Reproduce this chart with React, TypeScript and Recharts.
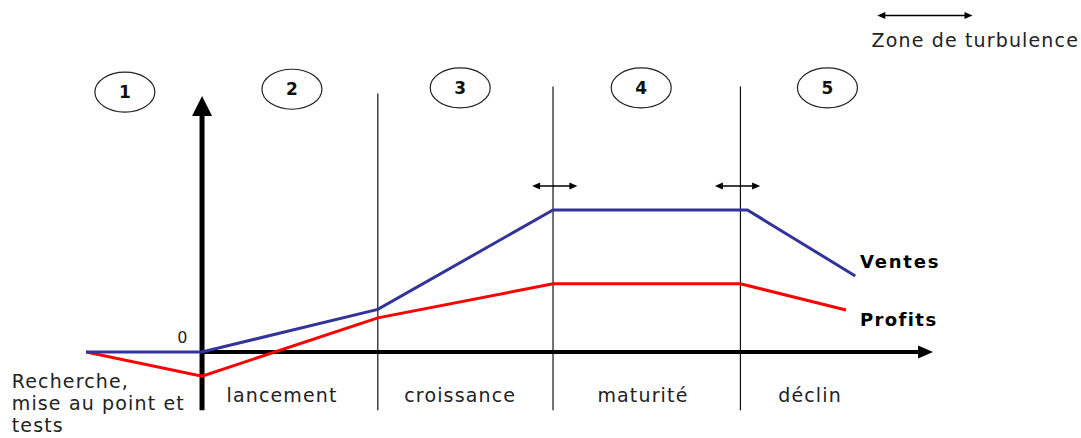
import React from 'react';
import { LineChart, Line, XAxis, YAxis, ReferenceLine, ReferenceDot } from 'recharts';

// time on x (arbitrary units), sales / profits on y (arbitrary units, 0 = break-even)
const ventesX = [0, 20, 50.3, 80.5, 114, 132.6];
const ventesY = [0, 0, 30, 100, 100, 53.5];
const profitsX = [0, 20, 50.3, 80.5, 112.8, 131];
const profitsY = [0, -17, 24, 48, 48, 29.6];

const phaseBounds = [50.3, 80.5, 112.8];
const phaseTops = [182, 187, 187];
const phaseNumbers = ['1', '2', '3', '4', '5'];
const phaseNumberX = [6.7, 35.5, 64.5, 95.7, 127.8];
const phaseNumberY = [183, 185, 186, 186, 186];
const phaseNames = ['lancement', 'croissance', 'maturité', 'déclin'];
const phaseNameX = [33.8, 64.5, 96, 124.8];
const turbulenceFrom = [76.9, 108.4];
const turbulenceTo = [84.7, 116.2];

const ventes = ventesX.map((x, i) => ({ x, y: ventesY[i] }));
const profits = profitsX.map((x, i) => ({ x, y: profitsY[i] }));

const FONT = '"DejaVu Sans", Verdana, sans-serif';

const arrowShape = (headLen: number, headW: number, both: boolean) => (p: any) => {
  const { x1, y1, x2, y2, stroke, strokeWidth } = p;
  const a = Math.atan2(y2 - y1, x2 - x1);
  const c = Math.cos(a);
  const s = Math.sin(a);
  const head = (tx: number, ty: number, dir: number) => {
    const bx = tx - dir * headLen * c;
    const by = ty - dir * headLen * s;
    const px = (-s * headW) / 2;
    const py = (c * headW) / 2;
    return `${tx},${ty} ${bx + px},${by + py} ${bx - px},${by - py}`;
  };
  const sx = both ? x1 + headLen * 0.8 * c : x1;
  const sy = both ? y1 + headLen * 0.8 * s : y1;
  return (
    <g>
      <line x1={sx} y1={sy} x2={x2 - headLen * 0.8 * c} y2={y2 - headLen * 0.8 * s} stroke={stroke} strokeWidth={strokeWidth} />
      <polygon points={head(x2, y2, 1)} fill={stroke} />
      {both && <polygon points={head(x1, y1, -1)} fill={stroke} />}
    </g>
  );
};

const textShape = (label: string, opts: any) => (p: any) => (
  <text
    x={p.cx}
    y={p.cy}
    textAnchor={opts.anchor || 'middle'}
    dominantBaseline="central"
    fontFamily={FONT}
    fontSize={opts.size || 19}
    fontWeight={opts.bold ? 'bold' : 'normal'}
    letterSpacing={opts.spacing ?? 1.15}
    fill={opts.fill || '#222'}
  >
    {label}
  </text>
);

const bubbleShape = (label: string) => (p: any) => (
  <g>
    <ellipse cx={p.cx} cy={p.cy} rx={30} ry={20} fill="#fff" stroke="#222" strokeWidth={1.2} />
    <text x={p.cx} y={p.cy} textAnchor="middle" dominantBaseline="central" fontFamily={FONT} fontSize={17} fontWeight="bold" fill="#111">
      {label}
    </text>
  </g>
);

export default function App() {
  return (
    <div style={{ position: 'absolute', left: 0, top: 0, width: 1081, height: 438, background: '#fff' }}>
      <LineChart width={1081} height={438} margin={{ top: 80, right: 141, bottom: 28, left: 86 }}>
        <XAxis type="number" dataKey="x" domain={[0, 147.2]} hide allowDataOverflow />
        <YAxis type="number" dataKey="y" domain={[-40.85, 191.5]} hide allowDataOverflow />

        {phaseBounds.map((b, i) => (
          <ReferenceLine
            key={`b-${i}`}
            segment={[{ x: b, y: -41 }, { x: b, y: phaseTops[i] }]}
            stroke="#111"
            strokeWidth={1.2}
            ifOverflow="visible"
          />
        ))}

        <ReferenceLine
          segment={[{ x: 20, y: 0 }, { x: 146, y: 0 }]}
          stroke="#000"
          strokeWidth={4}
          ifOverflow="visible"
          shape={arrowShape(15, 13, false)}
        />
        <ReferenceLine
          segment={[{ x: 20, y: -41 }, { x: 20, y: 180.3 }]}
          stroke="#000"
          strokeWidth={5}
          ifOverflow="visible"
          shape={arrowShape(20, 20, false)}
        />

        {turbulenceFrom.map((f, i) => (
          <ReferenceLine
            key={`t-${i}`}
            segment={[{ x: f, y: 116.9 }, { x: turbulenceTo[i], y: 116.9 }]}
            stroke="#000"
            strokeWidth={1.5}
            ifOverflow="visible"
            shape={arrowShape(8, 7, true)}
          />
        ))}
        <ReferenceLine
          segment={[{ x: 136.4, y: 237 }, { x: 152.8, y: 237 }]}
          stroke="#000"
          strokeWidth={1.5}
          ifOverflow="visible"
          shape={arrowShape(8, 7, true)}
        />

        <Line data={profits} dataKey="y" stroke="#ff0000" strokeWidth={3} dot={false} isAnimationActive={false} />
        <Line data={ventes} dataKey="y" stroke="#333399" strokeWidth={3} dot={false} isAnimationActive={false} />

        {phaseNumbers.map((n, i) => (
          <ReferenceDot key={`n-${i}`} x={phaseNumberX[i]} y={phaseNumberY[i]} ifOverflow="visible" shape={bubbleShape(n)} />
        ))}
        {phaseNames.map((n, i) => (
          <ReferenceDot key={`p-${i}`} x={phaseNameX[i]} y={-30.3} ifOverflow="visible" shape={textShape(n, {})} />
        ))}

        <ReferenceDot x={16.6} y={9.9} ifOverflow="visible" shape={textShape('0', { size: 16, spacing: 0 })} />
        <ReferenceDot x={-12.8} y={-20.4} ifOverflow="visible" shape={textShape('Recherche,', { anchor: 'start' })} />
        <ReferenceDot x={-12.8} y={-35.9} ifOverflow="visible" shape={textShape('mise au point et', { anchor: 'start' })} />
        <ReferenceDot x={-12.8} y={-51.4} ifOverflow="visible" shape={textShape('tests', { anchor: 'start' })} />

        <ReferenceDot x={133.4} y={63.4} ifOverflow="visible" shape={textShape('Ventes', { anchor: 'start', bold: true, size: 18, spacing: 1.8, fill: '#000' })} />
        <ReferenceDot x={133.4} y={23.2} ifOverflow="visible" shape={textShape('Profits', { anchor: 'start', bold: true, size: 18, spacing: 1.4, fill: '#000' })} />
        <ReferenceDot x={135.4} y={219.7} ifOverflow="visible" shape={textShape('Zone de turbulence', { anchor: 'start' })} />
      </LineChart>
    </div>
  );
}
